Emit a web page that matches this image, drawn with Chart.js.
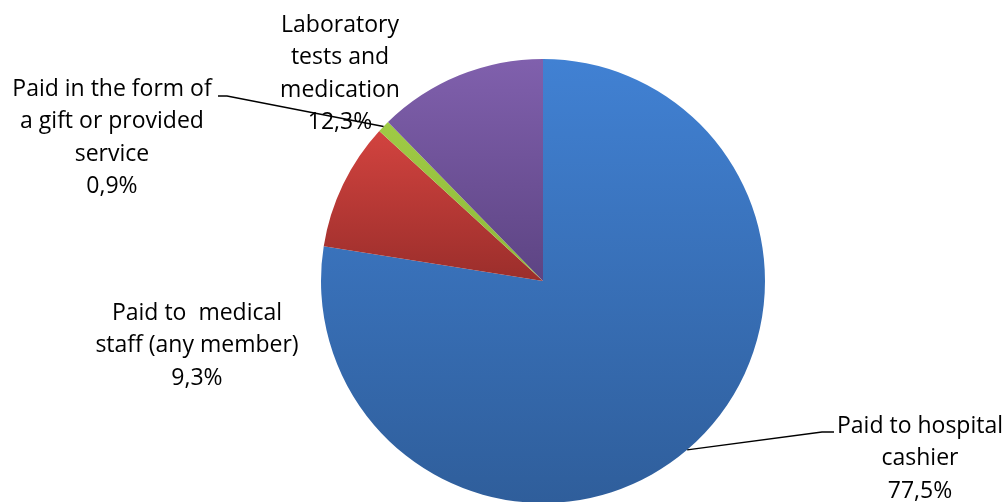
<!DOCTYPE html>
<html>
<head>
<meta charset="utf-8">
<script src="https://cdn.jsdelivr.net/npm/chart.js@4/dist/chart.umd.min.js"></script>
<style>
  html, body { margin: 0; padding: 0; background: #fff; overflow: hidden; }
  #wrap { position: relative; width: 1008px; height: 504px; }
</style>
</head>
<body>
<div id="wrap"><canvas id="myChart"></canvas></div>
<script>
const categories = [
  ["Paid to hospital", "cashier"],
  ["Paid to  medical", "staff (any member)"],
  ["Paid in the form of", "a gift or provided", "service"],
  ["Laboratory", "tests and", "medication"]
];
const shares = [77.5, 9.3, 0.9, 12.3];
// top / bottom colours of each slice gradient
const topColors = ["#4181d3", "#d2433f", "#9fcb45", "#8060ad"];
const bottomColors = ["#2f5e9b", "#9b2e2b", "#8fb83a", "#5d4483"];

// where each label block sits (centre x, first line y) and its leader line
const labelPos = [
  { x: 920, y: 426, leader: [[822, 432], [834, 432]] },
  { x: 197, y: 313, leader: null },
  { x: 112, y: 89, leader: [[227, 96], [218, 96]] },
  { x: 340, y: 25, leader: null }
];

function yExtent(arc) {
  const r = arc.outerRadius;
  let ys = [arc.y, arc.y + r * Math.sin(arc.startAngle), arc.y + r * Math.sin(arc.endAngle)];
  for (const a of [-Math.PI / 2, Math.PI / 2]) {
    for (let k = -2; k <= 2; k++) {
      const t = a + 2 * Math.PI * k;
      if (t >= arc.startAngle && t <= arc.endAngle) ys.push(arc.y + r * Math.sin(t));
    }
  }
  return [Math.min(...ys), Math.max(...ys)];
}

const gradientPlugin = {
  id: "sliceGradient",
  beforeDatasetsDraw(chart) {
    const ctx = chart.ctx;
    chart.getDatasetMeta(0).data.forEach((arc, i) => {
      const [y0, y1] = yExtent(arc);
      const g = ctx.createLinearGradient(0, y0, 0, y1);
      g.addColorStop(0, topColors[i]);
      g.addColorStop(1, bottomColors[i]);
      arc.options.backgroundColor = g;
    });
  }
};

const labelPlugin = {
  id: "outsideLabels",
  afterDatasetsDraw(chart) {
    const ctx = chart.ctx;
    const meta = chart.getDatasetMeta(0);
    ctx.save();
    ctx.font = "23px 'Open Sans'";
    ctx.fillStyle = "#000";
    ctx.textAlign = "center";
    ctx.textBaseline = "middle";
    const lineH = 32.5;
    meta.data.forEach((arc, i) => {
      const pos = labelPos[i];
      const lines = categories[i].concat([shares[i].toFixed(1).replace(".", ",") + "%"]);
      if (pos.leader) {
        const mid = (arc.startAngle + arc.endAngle) / 2;
        const px = arc.x + arc.outerRadius * Math.cos(mid);
        const py = arc.y + arc.outerRadius * Math.sin(mid);
        ctx.beginPath();
        ctx.strokeStyle = "#000";
        ctx.lineWidth = 1.3;
        ctx.moveTo(px, py);
        pos.leader.forEach(p => ctx.lineTo(p[0], p[1]));
        ctx.stroke();
      }
      lines.forEach((t, j) => ctx.fillText(t, pos.x, pos.y + j * lineH));
    });
    ctx.restore();
  }
};

const myChart = document.getElementById("myChart").getContext("2d");
const pieChart = new Chart(myChart, {
  type: "pie",
  data: {
    labels: categories.map(c => c.join(" ")),
    datasets: [{
      data: shares,
      backgroundColor: topColors,
      borderWidth: 0
    }]
  },
  options: {
    responsive: true,
    maintainAspectRatio: false,
    animation: false,
    layout: { padding: { left: 321, right: 243, top: 59, bottom: 1 } },
    plugins: {
      legend: { display: false },
      tooltip: { enabled: false }
    }
  },
  plugins: [gradientPlugin, labelPlugin]
});
</script>
</body>
</html>
